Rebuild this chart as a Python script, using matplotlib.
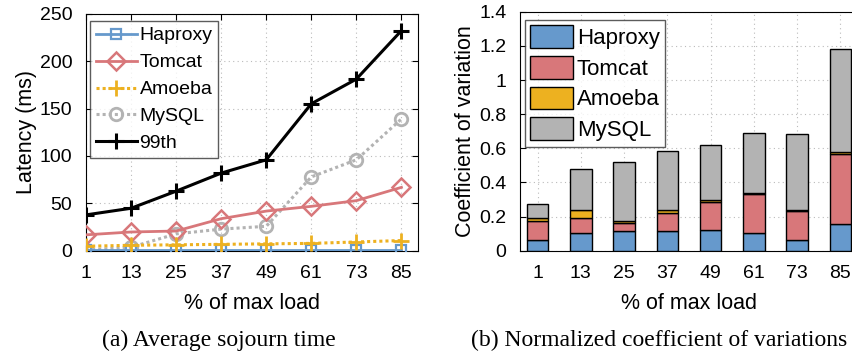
import matplotlib
matplotlib.use("Agg")
import matplotlib.pyplot as plt
import numpy as np

# ---- data ----
loads = [1, 13, 25, 37, 49, 61, 73, 85]
lat_haproxy = [1, 1, 1, 1, 1, 1, 1, 1]
lat_tomcat = [17, 20, 21, 34, 42, 47, 53, 67]
lat_amoeba = [5, 6, 6.5, 7, 7.5, 8, 9.5, 11]
lat_mysql = [1, 4, 18, 23, 26, 78, 96, 139]
lat_99th = [38, 45, 63, 82, 96, 155, 181, 232]

cv_haproxy = [0.063, 0.102, 0.115, 0.115, 0.121, 0.105, 0.063, 0.155]
cv_tomcat = [0.111, 0.088, 0.045, 0.108, 0.164, 0.225, 0.168, 0.410]
cv_amoeba = [0.016, 0.047, 0.014, 0.014, 0.012, 0.010, 0.009, 0.011]
cv_mysql = [0.082, 0.243, 0.344, 0.345, 0.324, 0.348, 0.442, 0.607]

series_names = ["Haproxy", "Tomcat", "Amoeba", "MySQL"]
load_labels = [str(v) for v in loads]

c_blue = "#6699CC"
c_red = "#D8777A"
c_yel = "#EDB120"
c_gray = "#B3B3B3"

plt.rcParams["font.family"] = ["Liberation Sans", "DejaVu Sans"]

fig = plt.figure(figsize=(8.52, 3.56), dpi=100)

# ---- left: latency lines ----
ax1 = fig.add_axes([0.101, 0.295, 0.390, 0.667])
ax1.plot(loads, lat_haproxy, color=c_blue, lw=2, marker="s", ms=7,
         mfc="none", mew=1.6, label="Haproxy", zorder=3)
ax1.plot(loads, lat_tomcat, color=c_red, lw=2, marker="D", ms=9,
         mfc="none", mew=1.8, label="Tomcat", zorder=3)
ax1.plot(loads, lat_amoeba, color=c_yel, lw=2.2, ls=(0, (1, 1)), marker="+",
         ms=11, mew=2, label="Amoeba", zorder=3)
ax1.plot(loads, lat_mysql, color=c_gray, lw=2.2, ls=(0, (1, 1)), marker="o",
         ms=9, mfc="none", mew=2, label="MySQL", zorder=2)
ax1.plot(loads, lat_99th, color="black", lw=2.2, marker="+", ms=12, mew=2.2,
         label="99th", zorder=4)
ax1.set_xlim(1, 89.5)
ax1.set_ylim(0, 250)
ax1.set_xticks(loads)
ax1.set_xticklabels(load_labels)
ax1.set_yticks([0, 50, 100, 150, 200, 250])
ax1.tick_params(direction="in", labelsize=14, top=True, right=True, pad=10,
                length=4)
ax1.grid(True, ls=(0, (1, 3)), color="#BBBBBB", lw=0.8)
ax1.set_axisbelow(True)
ax1.set_xlabel("% of max load", fontsize=15.5, labelpad=8)
ax1.set_ylabel("Latency (ms)", fontsize=15.5, labelpad=2)
leg1 = ax1.legend(loc="upper left", fontsize=14, handlelength=2.1,
                  handletextpad=0.15, borderpad=0.3, labelspacing=0.48,
                  fancybox=False, edgecolor="#333333",
                  bbox_to_anchor=(0.0, 0.985), borderaxespad=0.2)
leg1.get_frame().set_linewidth(1.0)

# ---- right: stacked bars ----
ax2 = fig.add_axes([0.6107, 0.2958, 0.396, 0.671])
x = np.arange(len(loads))
b1 = np.array(cv_haproxy)
b2 = b1 + np.array(cv_tomcat)
b3 = b2 + np.array(cv_amoeba)
ax2.bar(x, cv_haproxy, width=0.5, color=c_blue, edgecolor="black", lw=1,
        label="Haproxy", zorder=3)
ax2.bar(x, cv_tomcat, width=0.5, bottom=b1, color=c_red, edgecolor="black",
        lw=1, label="Tomcat", zorder=3)
ax2.bar(x, cv_amoeba, width=0.5, bottom=b2, color=c_yel, edgecolor="black",
        lw=1, label="Amoeba", zorder=3)
ax2.bar(x, cv_mysql, width=0.5, bottom=b3, color=c_gray, edgecolor="black",
        lw=1, label="MySQL", zorder=3)
ax2.set_xlim(-0.4, 7.4)
ax2.set_ylim(0, 1.4)
ax2.set_xticks(x)
ax2.set_xticklabels(load_labels)
ax2.set_yticks([0, 0.2, 0.4, 0.6, 0.8, 1.0, 1.2, 1.4])
ax2.set_yticklabels(["0", "0.2", "0.4", "0.6", "0.8", "1", "1.2", "1.4"])
ax2.tick_params(direction="in", labelsize=14, top=True, right=True, pad=10,
                length=4)
ax2.tick_params(axis="x", length=0)
ax2.grid(True, ls=(0, (1, 3)), color="#BBBBBB", lw=0.8)
ax2.set_axisbelow(True)
ax2.set_xlabel("% of max load", fontsize=15.5, labelpad=8)
ax2.set_ylabel("Coefficient of variation", fontsize=15.5, labelpad=2)
leg2 = ax2.legend(loc="upper left", fontsize=16, handlelength=1.9,
                  handleheight=1.2, handletextpad=0.2, borderpad=0.25,
                  labelspacing=0.3, fancybox=False, edgecolor="#333333",
                  bbox_to_anchor=(0.0, 0.985), borderaxespad=0.2)
leg2.get_frame().set_linewidth(1.0)

# ---- captions ----
fig.text(219 / 852, 1 - 340 / 356, "(a) Average sojourn time",
         family=["Liberation Serif", "DejaVu Serif"], fontsize=17,
         ha="center", va="center")
fig.text(659 / 852, 1 - 340 / 356, "(b) Normalized coefficient of variations",
         family=["Liberation Serif", "DejaVu Serif"], fontsize=17,
         ha="center", va="center")

fig.savefig("out.png", dpi=100)
